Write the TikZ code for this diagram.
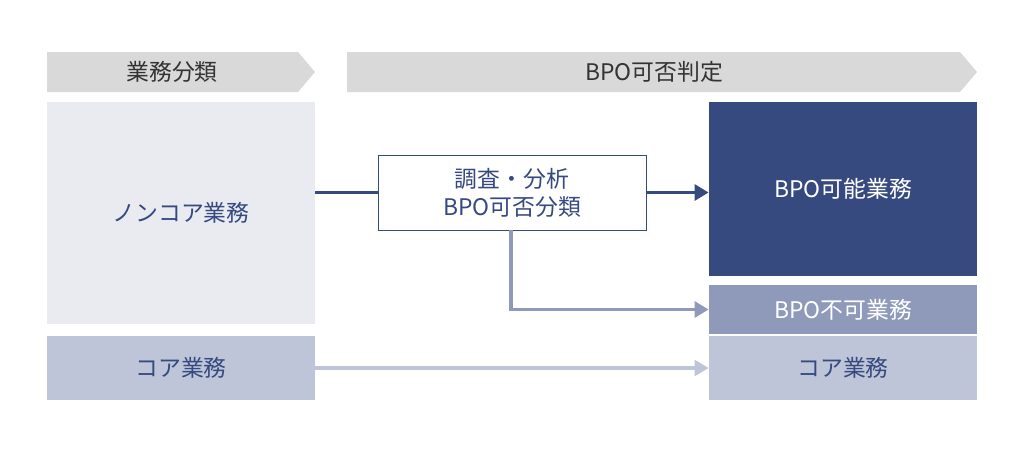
\documentclass[tikz,border=0pt]{standalone}
\usepackage{fontspec}
\setmainfont{Noto Sans CJK JP}
\usetikzlibrary{arrows.meta}
\definecolor{navy}{HTML}{364A7F}
\definecolor{midblue}{HTML}{8F9ABA}
\definecolor{paleblue}{HTML}{BFC5D9}
\definecolor{pale}{HTML}{E9EBF1}
\definecolor{headgray}{HTML}{D9D9D9}
\begin{document}
\begin{tikzpicture}[x=0.02cm, y=-0.02cm]
  \tikzset{box/.style={inner sep=0pt, font=\fontsize{13}{16}\selectfont},
           head/.style={fill=headgray, draw=none},
           link/.style={line width=2.2pt, -{Triangle[length=8pt, width=9pt]}}}
\useasboundingbox (0,0) rectangle (1026,451);

% headers
\fill[head] (47,52) -- (298,52) -- (315,72) -- (298,92) -- (47,92) -- cycle;
\node[box, text=black!80] (hcat) at (172,72) {業務分類};
\fill[head] (347,52) -- (960,52) -- (977,72) -- (960,92) -- (347,92) -- cycle;
\node[box, text=black!80] (hjudge) at (654,72) {BPO可否判定};

% left column
\node[box, fill=pale, minimum width=268*0.02cm, minimum height=222*0.02cm, text=navy] (noncore) at (181,213) {ノンコア業務};
\node[box, fill=paleblue, minimum width=268*0.02cm, minimum height=64*0.02cm, text=navy] (core) at (181,368) {コア業務};

% middle
\node[box, draw=navy, fill=white, minimum width=268*0.02cm, minimum height=75*0.02cm, text=navy, align=center] (survey) at (512,192.5) {調査・分析\\BPO可否分類};

% right column
\node[box, fill=navy, minimum width=268*0.02cm, minimum height=174*0.02cm, text=white] (ok) at (843,189) {BPO可能業務};
\node[box, fill=midblue, minimum width=268*0.02cm, minimum height=49*0.02cm, text=white] (ng) at (843,309.5) {BPO不可業務};
\node[box, fill=paleblue, minimum width=268*0.02cm, minimum height=64*0.02cm, text=navy] (coreR) at (843,368) {コア業務};

% connectors
\draw[navy, line width=2.2pt] (noncore.east |- survey.west) -- (survey.west);
\draw[navy, link] (survey.east) -- (ok.west |- survey.east);
\draw[midblue, link] (511,230) |- (ng.west);
\draw[paleblue, line width=1.8pt, -{Triangle[length=8pt, width=9pt]}] (core.east) -- (coreR.west);
\end{tikzpicture}
\end{document}
